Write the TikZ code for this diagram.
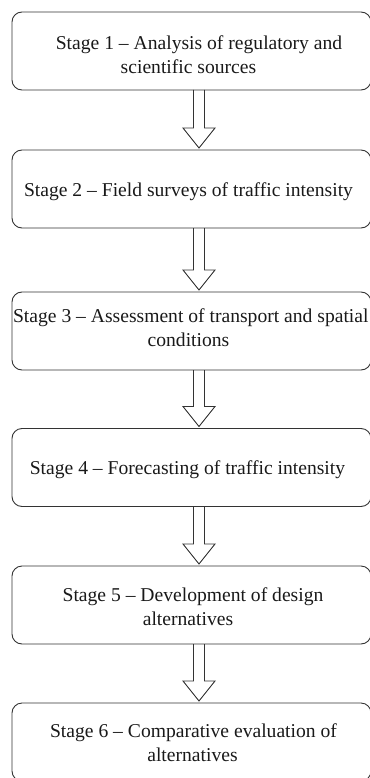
\documentclass[tikz,border=0pt]{standalone}
\usepackage{fontspec}
\setmainfont{Liberation Serif}
\usetikzlibrary{calc}
\tikzset{
  stagebox/.style={draw=black!80, line width=0.9pt, rounded corners=10pt,
    minimum width=359pt, minimum height=78pt, inner sep=0pt, outer sep=0pt},
  stagetext/.style={anchor=base, inner sep=0pt,
    font=\fontsize{19.6}{24}\selectfont, text=black!90},
  blockarrow/.style={draw=black!80, line width=0.9pt, line join=miter}
}
\newcommand\stagearrow[2]{%
  \draw[blockarrow] let \p1=(#1.south), \p2=(#2.north) in
    (\x1+2pt,\y1) -- (\x1+2pt,\y2+22pt) -- (\x1-8.5pt,\y2+22pt) --
    (\x1+7.5pt,\y2+2pt) -- (\x1+23.5pt,\y2+22pt) -- (\x1+13pt,\y2+22pt) --
    (\x1+13pt,\y1);}
\begin{document}
\begin{tikzpicture}[x=1pt,y=-1pt]
\useasboundingbox (0,0) rectangle (369,778);
% boxes
\node[stagebox] (B1) at (191.5,51) {};
\node[stagebox] (B2) at (191.5,189) {};
\node[stagebox] (B3) at (191.5,331) {};
\node[stagebox] (B4) at (191.5,467.5) {};
\node[stagebox] (B5) at (191.5,605) {};
\node[stagebox] (B6) at (191.5,742) {};
% texts
\node[stagetext] (T1) at (199,50) {\begin{tabular}[t]{@{}c@{}}Stage 1 – Analysis of regulatory and\\ scientific sources\hspace*{21pt}\end{tabular}};
\node[stagetext] (T2) at (188.5,196) {\begin{tabular}[t]{@{}c@{}}Stage 2 – Field surveys of traffic intensity\end{tabular}};
\node[stagetext] (T3) at (190.8,322) {\begin{tabular}[t]{@{}c@{}}Stage 3 – Assessment of transport and spatial\\ conditions\hspace*{4.6pt}\end{tabular}};
\node[stagetext] (T4) at (187.5,474) {\begin{tabular}[t]{@{}c@{}}Stage 4 – Forecasting of traffic intensity\end{tabular}};
\node[stagetext] (T5) at (193,601) {\begin{tabular}[t]{@{}c@{}}Stage 5 – Development of design\\ alternatives\hspace*{10pt}\end{tabular}};
\node[stagetext] (T6) at (193.5,737) {\begin{tabular}[t]{@{}c@{}}Stage 6 – Comparative evaluation of\\ alternatives\hspace*{2pt}\end{tabular}};
% arrows
\stagearrow{B1}{B2}
\stagearrow{B2}{B3}
\stagearrow{B3}{B4}
\stagearrow{B4}{B5}
\stagearrow{B5}{B6}
\end{tikzpicture}
\end{document}
